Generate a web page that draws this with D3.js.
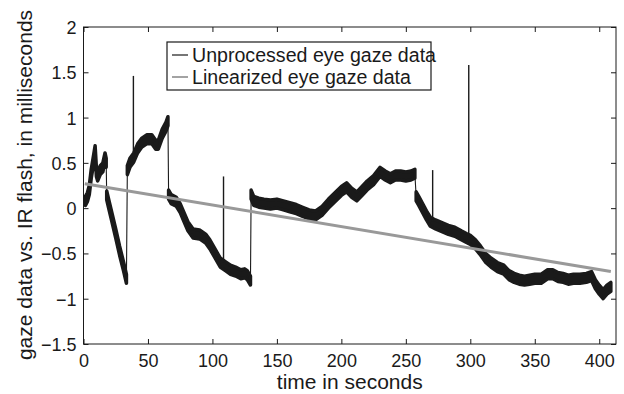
<!DOCTYPE html>
<html>
<head>
<meta charset="utf-8">
<script src="https://cdn.jsdelivr.net/npm/d3@7"></script>
<style>
  body { margin: 0; background: #fff; }
  text { font-family: 'Liberation Sans', Arial, sans-serif; fill: #1a1a1a; }
</style>
</head>
<body>
<svg id="chart" width="624" height="394"></svg>
<script>
'use strict'

// raw eye gaze data, one array per continuous stretch: [seconds, ms]
const seg1 = [[1.5, 0.08], [3, 0.12], [4.5, 0.2], [6, 0.38], [8, 0.55], [9, 0.64], [10, 0.4],
  [11, 0.35], [13, 0.42], [15, 0.45], [16.7, 0.56], [17.6, 0.5]]
const seg2 = [[18, 0.14], [20, 0.02], [22, -0.1], [25, -0.28], [28, -0.47], [31, -0.64], [33.3, -0.78]]
const seg3 = [[34, 0.42], [36, 0.5], [39, 0.56], [42, 0.66], [45, 0.72], [49, 0.76], [53, 0.76],
  [56, 0.7], [58, 0.7], [61, 0.82], [64, 0.9], [65.5, 0.96]]
const seg4 = [[66, 0.15], [68, 0.1], [72, 0.07], [75, 0.0], [78, -0.1], [81, -0.2], [85, -0.28],
  [90, -0.29], [95, -0.34], [98, -0.4], [102, -0.5], [106, -0.6], [110, -0.64], [114, -0.68],
  [118, -0.7], [122, -0.73], [125, -0.72], [127, -0.74], [129.5, -0.8]]
const seg5 = [[130, 0.15], [132, 0.08], [136, 0.06], [140, 0.05], [145, 0.04], [150, 0.05],
  [155, 0.03], [160, 0.01], [165, -0.01], [170, -0.04], [175, -0.07], [180, -0.08], [185, -0.03],
  [190, 0.05], [195, 0.12], [200, 0.19], [204, 0.23], [208, 0.17], [212, 0.13], [216, 0.19],
  [220, 0.25], [225, 0.31], [230, 0.4], [234, 0.36], [238, 0.33], [242, 0.36], [246, 0.36],
  [250, 0.35], [254, 0.36], [257, 0.38]]
const seg6 = [[258, 0.13], [260, 0.08], [263, 0.0], [266, -0.08], [269, -0.15], [273, -0.18],
  [278, -0.21], [283, -0.24], [288, -0.26], [293, -0.3], [297, -0.33], [300, -0.35], [304, -0.4],
  [308, -0.47], [312, -0.55], [316, -0.6], [321, -0.65], [326, -0.68], [330, -0.74], [334, -0.77],
  [338, -0.79], [342, -0.8], [346, -0.79], [350, -0.78], [355, -0.78], [360, -0.73], [364, -0.73],
  [368, -0.76], [372, -0.77], [376, -0.79], [380, -0.78], [385, -0.78], [390, -0.77], [394, -0.75],
  [397, -0.84], [400, -0.9], [403, -0.95], [406, -0.9], [409, -0.87]]
const segments = [seg1, seg2, seg3, seg4, seg5, seg6]

// single-sample spikes: [seconds, base, top]
const spikes = [[38.7, 0.56, 1.46], [108.6, -0.58, 0.35], [270.8, -0.15, 0.42], [298.8, -0.33, 1.58]]

// linearized fit
const linT = [1, 409]
const linV = [0.27, -0.70]

const xTicks = [0, 50, 100, 150, 200, 250, 300, 350, 400]
const yTicks = [-1.5, -1, -0.5, 0, 0.5, 1, 1.5, 2]
const legendLabels = ['Unprocessed eye gaze data', 'Linearized eye gaze data']

const margin = {top: 27, right: 8, bottom: 50, left: 83.5}
const W = 624, H = 394
const svg = d3.select('#chart')

const x = d3.scaleLinear().domain([0, 413]).range([margin.left, W - margin.right])
const y = d3.scaleLinear().domain([-1.5, 2]).range([H - margin.bottom, margin.top])

const dark = '#1a1a1a'
const grey = '#999'

// thin trace: shows the jumps between stretches
svg.append('path')
  .attr('d', d3.line().x(d => x(d[0])).y(d => y(d[1]))(segments.flat()))
  .attr('fill', 'none')
  .attr('stroke', dark)
  .attr('stroke-width', 1.1)

// noisy band for each stretch
const band = d3.area()
  .x(d => x(d[0]))
  .y0(d => y(d[1]) + 4.5)
  .y1(d => y(d[1]) - 4.5)

svg.append('g').selectAll('path')
  .data(segments)
  .enter().append('path')
  .attr('d', band)
  .attr('fill', dark)
  .attr('stroke', dark)
  .attr('stroke-width', 3.5)
  .attr('stroke-linejoin', 'round')

svg.append('g').selectAll('line')
  .data(spikes)
  .enter().append('line')
  .attr('x1', d => x(d[0])).attr('x2', d => x(d[0]))
  .attr('y1', d => y(d[1])).attr('y2', d => y(d[2]))
  .attr('stroke', dark)
  .attr('stroke-width', 1.4)

svg.append('path')
  .attr('d', d3.line().x(d => x(d[0])).y(d => y(d[1]))(d3.zip(linT, linV)))
  .attr('stroke', grey)
  .attr('stroke-width', 3)
  .attr('fill', 'none')

// axes, ticks pointing inward on all four sides
const fmt = d => d3.format('')(d).replace('-', '\u2212')
const tickLen = 5

const axB = svg.append('g').attr('transform', 'translate(0,' + (H - margin.bottom) + ')')
  .call(d3.axisBottom(x).tickValues(xTicks).tickSizeInner(-tickLen).tickSizeOuter(0).tickPadding(10).tickFormat(fmt))
const axT = svg.append('g').attr('transform', 'translate(0,' + margin.top + ')')
  .call(d3.axisTop(x).tickValues(xTicks).tickSizeInner(-tickLen).tickSizeOuter(0).tickFormat(''))
const axL = svg.append('g').attr('transform', 'translate(' + margin.left + ',0)')
  .call(d3.axisLeft(y).tickValues(yTicks).tickSizeInner(-tickLen).tickSizeOuter(0).tickPadding(7).tickFormat(fmt))
const axR = svg.append('g').attr('transform', 'translate(' + (W - margin.right) + ',0)')
  .call(d3.axisRight(y).tickValues(yTicks).tickSizeInner(-tickLen).tickSizeOuter(0).tickFormat(''))

;[axB, axT, axL, axR].forEach(g => {
  g.select('.domain').remove()
  g.selectAll('line').attr('stroke', dark)
  g.selectAll('text').attr('font-size', 18).attr('font-family', null).style('fill', dark)
})
axL.selectAll('text').attr('dy', '0.36em')

svg.append('rect')
  .attr('x', margin.left).attr('y', margin.top)
  .attr('width', W - margin.right - margin.left)
  .attr('height', H - margin.bottom - margin.top)
  .attr('fill', 'none').attr('stroke', dark).attr('stroke-width', 1)

svg.append('text')
  .attr('x', (x.range()[0] + x.range()[1]) / 2).attr('y', 389)
  .attr('text-anchor', 'middle').attr('font-size', 21)
  .text('time in seconds')

svg.append('text')
  .attr('transform', 'translate(32,185) rotate(-90)')
  .attr('text-anchor', 'middle').attr('font-size', 21)
  .text('gaze data vs. IR flash, in milliseconds')

// legend
const lg = svg.append('g')
lg.append('rect')
  .attr('x', 167).attr('y', 42).attr('width', 264).attr('height', 48)
  .attr('fill', '#fff').attr('stroke', dark).attr('stroke-width', 1.2)
const items = lg.selectAll('g.item')
  .data(legendLabels)
  .enter().append('g')
  .attr('transform', (d, i) => 'translate(0,' + (55 + i * 22) + ')')
items.append('line')
  .attr('x1', 172).attr('x2', 188)
  .attr('stroke', (d, i) => i ? grey : dark)
  .attr('stroke-width', (d, i) => i ? 1.8 : 1.2)
items.append('text')
  .attr('x', 192).attr('y', 6.8)
  .attr('font-size', 19.6)
  .text(d => d)
</script>
</body>
</html>
